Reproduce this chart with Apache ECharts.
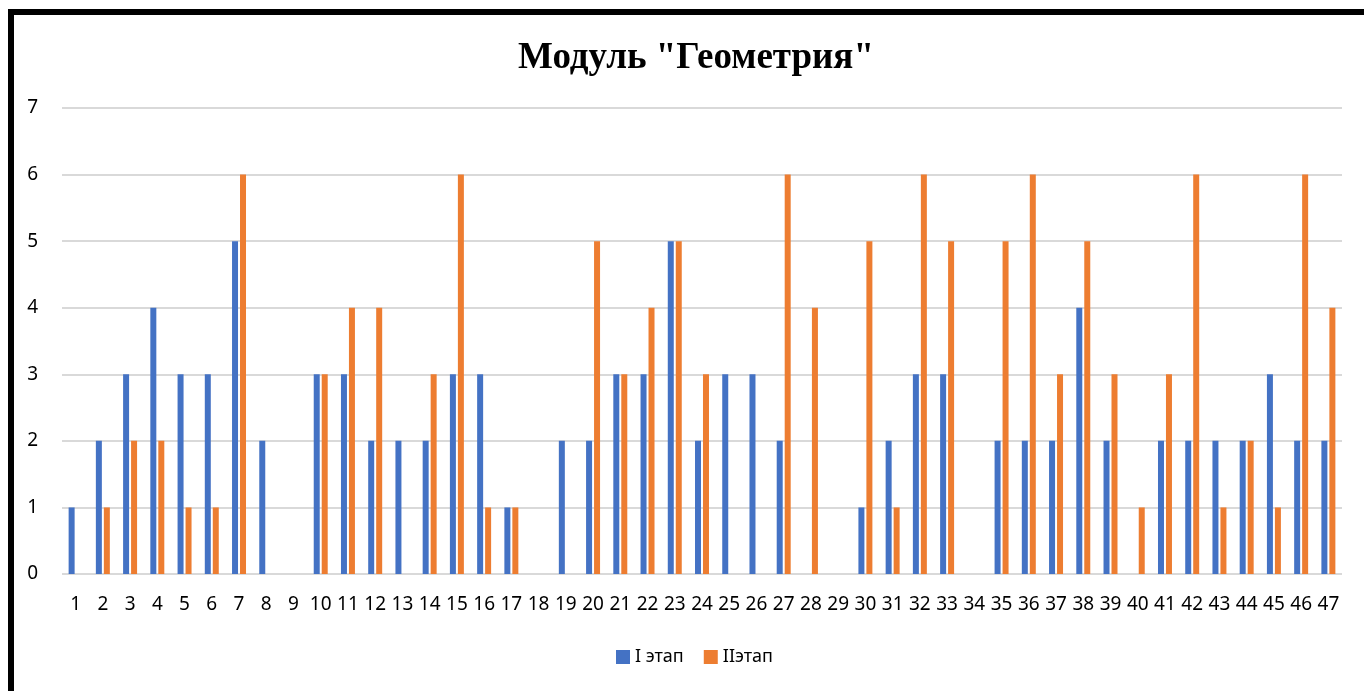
<!DOCTYPE html>
<html lang="ru">
<head>
  <meta charset="UTF-8">
  <title>Модуль "Геометрия"</title>
  <style>
    html, body { width:100%; height:100%; margin:0; background:#fff; }
  </style>
</head>
<body>
  <div id="chart" style="width:1364px;height:691px"></div>
  <script src="https://cdn.jsdelivr.net/npm/echarts@6/dist/echarts.min.js"></script>
  <script>
    var categories = ['1','2','3','4','5','6','7','8','9','10','11','12','13','14','15','16',
      '17','18','19','20','21','22','23','24','25','26','27','28','29','30','31','32',
      '33','34','35','36','37','38','39','40','41','42','43','44','45','46','47'];
    var stage1 = [1,2,3,4,3,3,5,2,0,3,3,2,2,2,3,3,1,0,2,2,3,3,5,2,3,3,2,0,0,1,2,3,3,0,2,2,2,4,2,0,2,2,2,2,3,2,2];
    var stage2 = [0,1,2,2,1,1,6,0,0,3,4,4,0,3,6,1,1,0,0,5,3,4,5,3,0,0,6,4,0,5,1,6,5,0,5,6,3,5,3,1,3,6,1,2,1,6,4];
    var seriesNames = ['I этап', 'IIэтап'];

    var myChart = echarts.init(document.getElementById('chart'));
    var labelFont = { fontFamily: 'Noto Sans', fontSize: 19, color: '#000' };
    var option = {
      animation: false,
      title: {
        text: 'Модуль "Геометрия"',
        left: 513,
        top: 35,
        textStyle: { fontFamily: 'Liberation Serif', fontWeight: 'bold', fontSize: 37, color: '#000' }
      },
      graphic: [{
        type: 'rect',
        shape: { x: 11, y: 12, width: 1420, height: 760 },
        style: { fill: 'none', stroke: '#000', lineWidth: 6 },
        z: 100
      }],
      legend: {
        bottom: 20,
        left: 611,
        itemWidth: 14,
        itemHeight: 14,
        itemGap: 20,
        icon: 'rect',
        textStyle: { fontFamily: 'Noto Sans', fontSize: 18, color: '#000' }
      },
      grid: { left: 62, right: 22, top: 108, bottom: 117 },
      xAxis: {
        type: 'category',
        data: categories,
        axisLine: { show: false },
        axisTick: { show: false },
        axisLabel: Object.assign({ margin: 21, interval: 0 }, labelFont)
      },
      yAxis: {
        type: 'value',
        min: 0,
        max: 7,
        interval: 1,
        axisLine: { show: false },
        axisTick: { show: false },
        splitLine: { lineStyle: { color: '#d9d9d9', width: 2 } },
        axisLabel: Object.assign({ margin: 24 }, labelFont)
      },
      series: [{
        name: seriesNames[0],
        type: 'bar',
        data: stage1,
        barWidth: 6,
        barGap: '33%',
        itemStyle: { color: '#4472C4' }
      }, {
        name: seriesNames[1],
        type: 'bar',
        data: stage2,
        barWidth: 6,
        itemStyle: { color: '#ED7D31' }
      }]
    };
    myChart.setOption(option);
  </script>
</body>
</html>
